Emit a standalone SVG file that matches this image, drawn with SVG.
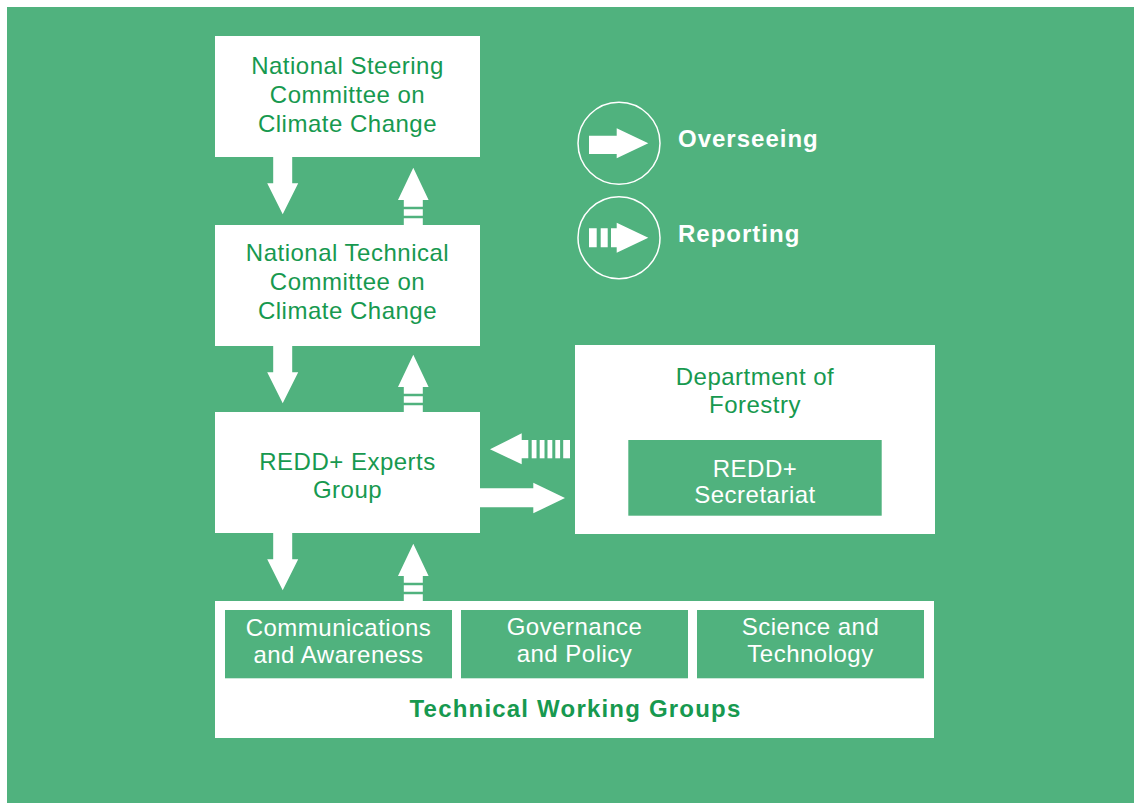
<svg xmlns="http://www.w3.org/2000/svg" xmlns:xlink="http://www.w3.org/1999/xlink" width="1134" height="803" viewBox="0 0 1134 803">
<style>
.bg{fill:#50b27e}
.box{fill:#ffffff}
.inner{fill:#50b27e}
.arr{fill:#ffffff}
.t{font-family:"Liberation Sans",Arial,sans-serif;font-size:24px;text-anchor:middle;letter-spacing:0.5px}
.g{fill:#17994f}
.w{fill:#ffffff}
.b{font-weight:bold;letter-spacing:1px}
.leg{fill:none;stroke:#ffffff;stroke-width:1.5}
</style>
<defs>
<path id="down" d="M-9.5,0 H9.5 V26.3 H15.5 L0,57.3 L-15.5,26.3 H-9.5 Z"/>
<path id="up" d="M0,0 L15.3,32.3 H9.5 V39 H-9.5 V32.3 H-15.3 Z M-9.5,41.6 H9.5 V48 H-9.5 Z M-9.5,50.6 H9.5 V57.3 H-9.5 Z"/>
</defs>
<rect class="bg" x="7" y="7" width="1127" height="796"/>

<g id="connectors" class="arr">
<use xlink:href="#down" x="282.7" y="157"/>
<use xlink:href="#up" x="413.3" y="167.7"/>
<use xlink:href="#down" x="282.7" y="346"/>
<use xlink:href="#up" x="413.3" y="354.7"/>
<use xlink:href="#down" x="282.7" y="533"/>
<use xlink:href="#up" x="413.3" y="543.7"/>
<path d="M480,488.3 H533.3 V482.7 L565,498 L533.3,513.3 V507.3 H480 Z"/>
<path d="M490,449.3 L521.7,433.3 V440 H528.3 V458.3 H521.7 V464.3 Z"/>
<rect x="531.7" y="440" width="4.8" height="18.3"/>
<rect x="539.7" y="440" width="4.8" height="18.3"/>
<rect x="547.5" y="440" width="4.8" height="18.3"/>
<rect x="555.3" y="440" width="4.8" height="18.3"/>
<rect x="563.2" y="440" width="6.8" height="18.3"/>
</g>

<g id="legend">
<circle class="leg" cx="619" cy="143.3" r="41"/>
<path class="arr" d="M589,135.7 H616.7 V128.3 L648.3,143.3 L616.7,158.3 V154 H589 Z"/>
<text class="t w b" x="678" y="147" style="text-anchor:start">Overseeing</text>
<circle class="leg" cx="619" cy="237.7" r="41"/>
<path class="arr" d="M589,228.3 H596.7 V247.3 H589 Z M600.7,228.3 H607.7 V247.3 H600.7 Z M611,228.3 H616.7 V222.7 L648.3,237.7 L616.7,252.7 V247.3 H611 Z"/>
<text class="t w b" x="678" y="241.5" style="text-anchor:start">Reporting</text>
</g>

<g id="nscc">
<rect class="box" x="215" y="36" width="265" height="121"/>
<text class="t g" x="347.5" y="74.3">National Steering</text>
<text class="t g" x="347.5" y="103">Committee on</text>
<text class="t g" x="347.5" y="131.7">Climate Change</text>
</g>

<g id="ntcc">
<rect class="box" x="215" y="225" width="265" height="121"/>
<text class="t g" x="347.5" y="260.5">National Technical</text>
<text class="t g" x="347.5" y="289.5">Committee on</text>
<text class="t g" x="347.5" y="318.5">Climate Change</text>
</g>

<g id="experts">
<rect class="box" x="215" y="412" width="265" height="121"/>
<text class="t g" x="347.5" y="469.5">REDD+ Experts</text>
<text class="t g" x="347.5" y="498">Group</text>
</g>

<g id="forestry">
<rect class="box" x="575" y="345" width="360" height="189"/>
<text class="t g" x="755" y="384.5">Department of</text>
<text class="t g" x="755" y="412.5">Forestry</text>
</g>

<g id="secretariat">
<rect class="inner" x="628.3" y="440" width="253.4" height="75.7"/>
<text class="t w" x="755" y="476.7">REDD+</text>
<text class="t w" x="755" y="503.3">Secretariat</text>
</g>

<g id="twg">
<rect class="box" x="215" y="601" width="719" height="137"/>
<text class="t g b" x="575.5" y="716.7" style="letter-spacing:1.2px">Technical Working Groups</text>
</g>

<g id="comms">
<rect class="inner" x="225" y="610" width="227" height="68.3"/>
<text class="t w" x="338.5" y="635.7">Communications</text>
<text class="t w" x="338.5" y="662.7">and Awareness</text>
</g>

<g id="gov">
<rect class="inner" x="461" y="610" width="227" height="68.3"/>
<text class="t w" x="574.5" y="635">Governance</text>
<text class="t w" x="574.5" y="662">and Policy</text>
</g>

<g id="sci">
<rect class="inner" x="697" y="610" width="227" height="68.3"/>
<text class="t w" x="810.5" y="635">Science and</text>
<text class="t w" x="810.5" y="662">Technology</text>
</g>
</svg>
